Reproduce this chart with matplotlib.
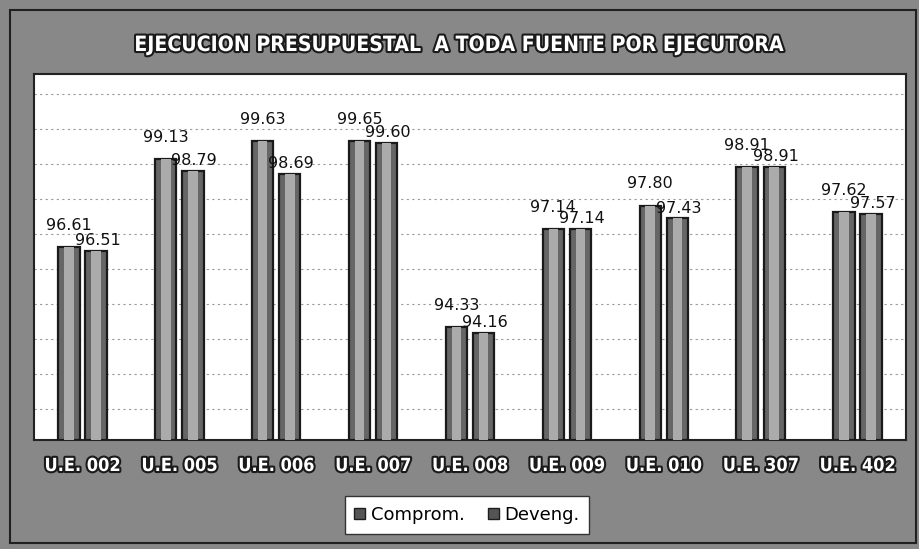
import matplotlib
matplotlib.use("Agg")
import matplotlib.pyplot as plt
import matplotlib.patheffects as pe
import matplotlib.transforms as mtransforms
import numpy as np

# datos del grafico
ejecutoras = ["U.E. 002", "U.E. 005", "U.E. 006", "U.E. 007", "U.E. 008",
              "U.E. 009", "U.E. 010", "U.E. 307", "U.E. 402"]
comprom = [96.61, 99.13, 99.63, 99.65, 94.33, 97.14, 97.80, 98.91, 97.62]
deveng = [96.51, 98.79, 98.69, 99.60, 94.16, 97.14, 97.43, 98.91, 97.57]

fondo = "#888888"
contorno = [pe.withStroke(linewidth=3, foreground="#1a1a1a")]
base = 91.1

fig = plt.figure(figsize=(9.2, 5.49), dpi=100, facecolor=fondo)

# marco exterior
fig.patches.append(plt.Rectangle((10 / 920, 6 / 549), 906 / 920, 533 / 549,
                                 transform=fig.transFigure, fill=False,
                                 edgecolor="#202020", linewidth=1.5))

# area del grafico (blanca)
ax = fig.add_axes([34 / 920, 1 - 440 / 549, 872 / 920, 366 / 549])
ax.set_facecolor("white")
for s in ax.spines.values():
    s.set_color("#222222")
    s.set_linewidth(1.5)

x = np.arange(len(ejecutoras))
ancho = 0.22
sep = 0.14

# barras tipo cilindro: cuerpo oscuro con centro mas claro
for pos, vals in [(x - sep, comprom), (x + sep, deveng)]:
    ax.bar(pos, np.array(vals) - base, bottom=base, width=ancho, color="#666666",
           edgecolor="#1a1a1a", linewidth=1.6, zorder=3)
    ax.bar(pos, np.array(vals) - base, bottom=base, width=ancho * 0.45,
           color="#ababab", linewidth=0, zorder=4)

# etiquetas de valores
for i in range(len(ejecutoras)):
    ax.annotate(f"{comprom[i]:.2f}", (x[i] - sep, comprom[i]), xytext=(0, 15.5),
                textcoords="offset points", ha="center", va="center",
                fontsize=11.5, color="#111111", zorder=6)
    ax.annotate(f"{deveng[i]:.2f}", (x[i] + sep, deveng[i]), xytext=(1, 7.5),
                textcoords="offset points", ha="center", va="center",
                fontsize=11.5, color="#111111", zorder=6)

ax.set_xlim(-0.5, len(ejecutoras) - 0.5)
ax.set_ylim(base, base + 366 / 35)
ax.set_yticks(np.arange(92, 102, 1))
ax.yaxis.grid(True, linestyle=(0, (2, 3)), color="#9a9a9a", linewidth=0.8, zorder=0)
ax.tick_params(axis="y", left=False, labelleft=False)
ax.tick_params(axis="x", bottom=False, labelbottom=False)

# etiquetas de categorias (blancas con contorno)
trans = mtransforms.blended_transform_factory(ax.transData, fig.transFigure)
for i, nombre in enumerate(ejecutoras):
    ax.text(x[i], 1 - 466 / 549, nombre, transform=trans,
            ha="center", va="center", fontsize=13, fontweight="bold",
            fontstretch="condensed", color="white", path_effects=contorno)

# titulo
fig.text(0.5, 1 - 45 / 549, "EJECUCION PRESUPUESTAL  A TODA FUENTE POR EJECUTORA",
         ha="center", va="center", fontsize=15.2, fontweight="bold",
         fontstretch="condensed", color="white", path_effects=contorno)

# leyenda
h1 = plt.Rectangle((0, 0), 1, 1, facecolor="#555555", edgecolor="#1e1e1e")
h2 = plt.Rectangle((0, 0), 1, 1, facecolor="#555555", edgecolor="#1e1e1e")
leg = fig.legend([h1, h2], ["Comprom.", "Deveng."], loc="center",
                 bbox_to_anchor=(467 / 920, 1 - 515 / 549), ncol=2, frameon=True,
                 fancybox=False, fontsize=13, handlelength=0.6, handleheight=0.6,
                 handletextpad=0.3, columnspacing=1.3, borderpad=0.55,
                 borderaxespad=0)
leg.get_frame().set_facecolor("white")
leg.get_frame().set_edgecolor("#333333")
leg.get_frame().set_alpha(1)

fig.savefig("out.png", dpi=100, facecolor=fondo)
